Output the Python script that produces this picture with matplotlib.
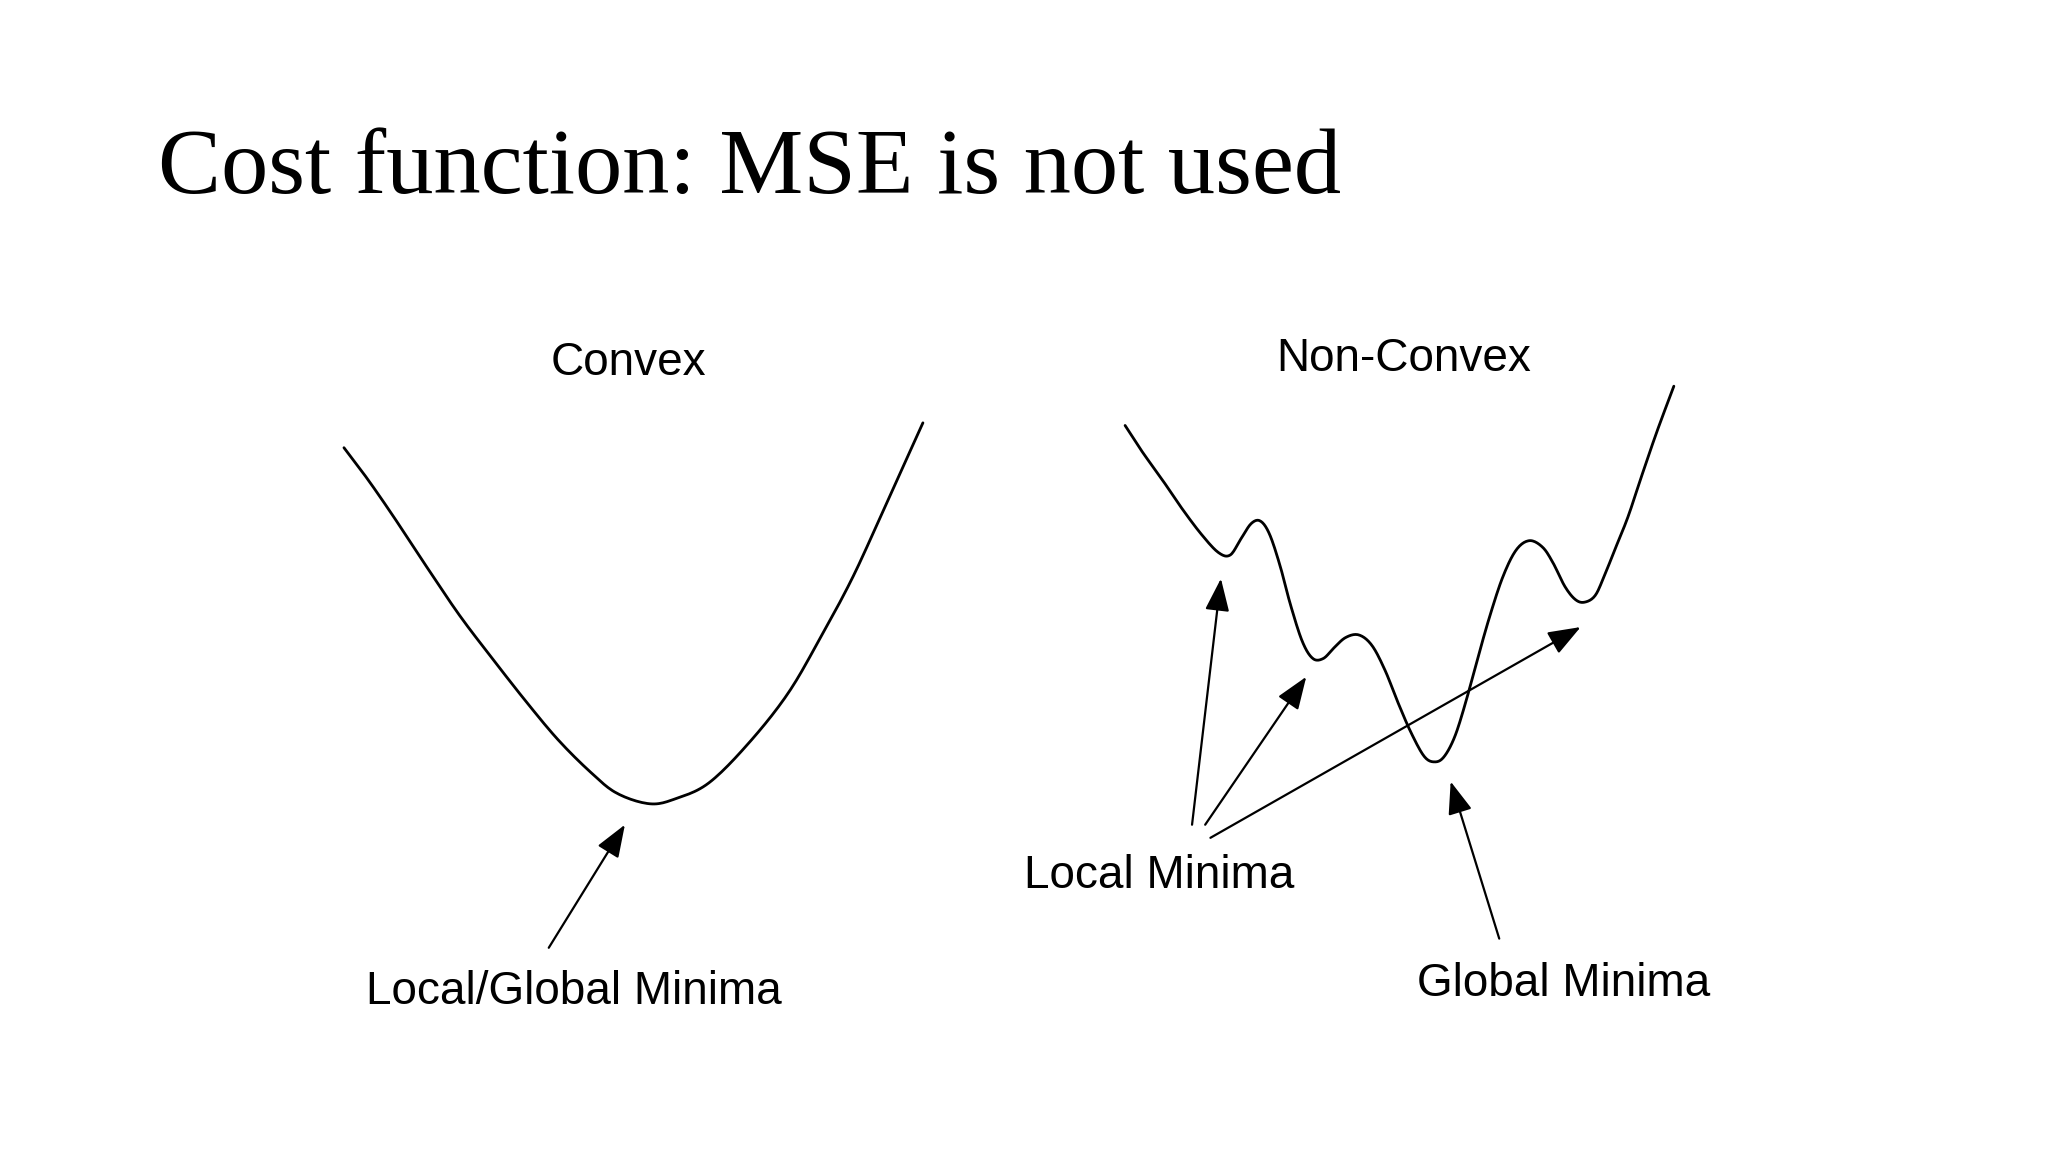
import matplotlib.pyplot as plt
import numpy as np

# points (slide coords, 1560 x 880, y down)
convex_x = [262, 280, 300, 325, 350, 375, 400, 425, 450, 470, 495, 515, 540, 570, 600, 625, 650, 675, 703]
convex_y = [342, 366, 395, 433, 470, 503, 535, 565, 590, 606, 614, 610, 598, 568, 530, 487, 440, 385, 323]

nonconvex_x = [857, 870, 885, 900, 915, 928, 937, 945, 953, 960, 967, 975, 983, 992, 1000, 1008, 1016, 1025,
               1035, 1045, 1055, 1065, 1075, 1085, 1093, 1100, 1108, 1116, 1125, 1135, 1145, 1155, 1165, 1175,
               1183, 1192, 1200, 1207, 1215, 1222, 1230, 1240, 1250, 1262, 1275]
nonconvex_y = [325, 345, 366, 388, 408, 422, 424, 412, 400, 398, 408, 432, 462, 490, 503, 503, 495, 487,
               485, 493, 512, 537, 560, 578, 582, 578, 563, 538, 505, 470, 440, 420, 413, 418,
               430, 448, 458, 460, 455, 440, 420, 395, 365, 330, 295]

# arrows: (tail x, tail y, head x, head y)
arrows = [(418, 724, 476, 630),
          (908, 630, 930, 442),
          (918, 630, 995, 517),
          (922, 640, 1204, 479),
          (1142, 717, 1105, 597)]


def smooth(xs, ys, n=12):
    # catmull-rom, only for drawing a smooth stroke through the read points
    p = np.column_stack([xs, ys]).astype(float)
    p = np.vstack([p[0], p, p[-1]])
    out = []
    t = np.linspace(0, 1, n, endpoint=False)[:, None]
    for i in range(1, len(p) - 2):
        p0, p1, p2, p3 = p[i - 1], p[i], p[i + 1], p[i + 2]
        out.append(0.5 * (2 * p1 + (-p0 + p2) * t + (2 * p0 - 5 * p1 + 4 * p2 - p3) * t**2
                          + (-p0 + 3 * p1 - 3 * p2 + p3) * t**3))
    out.append(p[-2][None, :])
    out = np.vstack(out)
    return out[:, 0], out[:, 1]


fig = plt.figure(figsize=(20.48, 11.52), dpi=100)
ax = fig.add_axes([0, 0, 1, 1])
ax.set_xlim(0, 1560)
ax.set_ylim(880, 0)
ax.axis('off')

for xs, ys in [(convex_x, convex_y), (nonconvex_x, nonconvex_y)]:
    sx, sy = smooth(xs, ys)
    ax.plot(sx, sy, color='black', lw=2.0, solid_joinstyle='round', solid_capstyle='round')

for x0, y0, x1, y1 in arrows:
    ax.annotate('', xy=(x1, y1), xytext=(x0, y0),
                arrowprops=dict(arrowstyle='-|>,head_length=2.0,head_width=0.75',
                                color='black', lw=1.6, shrinkA=0, shrinkB=0))

ax.text(120, 130, 'Cost function: MSE is not used', family='Liberation Serif',
        fontsize=68, va='center', ha='left')

sans = 'Liberation Sans'
ax.text(479, 277, 'Convex', family=sans, fontsize=33, ha='center', va='center')
ax.text(1069, 274, 'Non-Convex', family=sans, fontsize=33, ha='center', va='center')
ax.text(437, 758, 'Local/Global Minima', family=sans, fontsize=33, ha='center', va='center')
ax.text(883, 669, 'Local Minima', family=sans, fontsize=33, ha='center', va='center')
ax.text(1191, 752, 'Global Minima', family=sans, fontsize=33, ha='center', va='center')

fig.savefig('out.png', dpi=100, facecolor='white')
